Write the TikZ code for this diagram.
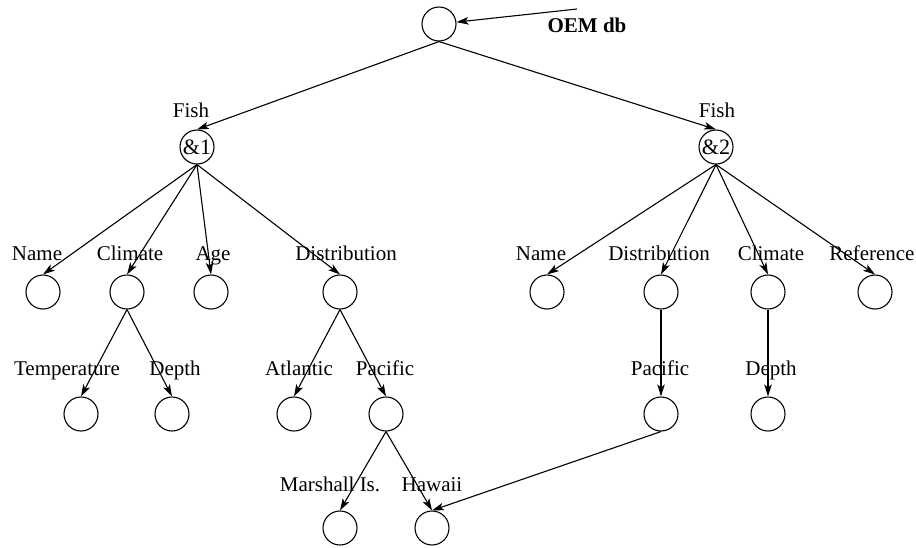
\documentclass[tikz,border=0pt]{standalone}
\usepackage{fontspec}
\setmainfont{Liberation Serif}
\usetikzlibrary{arrows.meta,positioning}

\begin{document}
\begin{tikzpicture}[
    x=1pt, y=-1pt,
    >={Stealth[length=12pt,width=7.5pt,inset=3pt]},
    font=\fontsize{21}{25}\selectfont,
    obj/.style={
		circle,
		draw=black,
		line width=1.1pt,
		minimum size=34pt,
		inner sep=0pt
	},
	lbl/.style={
		anchor=base,
		inner sep=0pt
	},
	link/.style={
		->,
		line width=1.1pt
	}
  ]
  \useasboundingbox (0,0) rectangle (916,547);
    % We start by placing the objects

  \node [obj] (root) at (439,24) {};
  \node [obj, font=\fontsize{22}{25}\selectfont] (fish1) at (197,147) {\&1};
  \node [obj, font=\fontsize{22}{25}\selectfont] (fish2) at (716,147) {\&2};

  % first fish
  \node [obj] (name1) at (43,292) {};
  \node [obj] (climate1) at (127,292) {};
  \node [obj] (age1) at (211,292) {};
  \node [obj] (distr1) at (340,292) {};
  \node [obj] (temp1) at (81,414) {};
  \node [obj] (depth1) at (172,414) {};
  \node [obj] (atlantic1) at (294,414) {};
  \node [obj] (pacific1) at (386,414) {};
  \node [obj] (marshall1) at (340,528) {};
  \node [obj] (hawaii1) at (432,528) {};

  % second fish
  \node [obj] (name2) at (547,292) {};
  \node [obj] (distr2) at (661,292) {};
  \node [obj] (climate2) at (768,292) {};
  \node [obj] (ref2) at (875,292) {};
  \node [obj] (pacific2) at (661,414) {};
  \node [obj] (depth2) at (768,414) {};

  % labels
  \node [lbl, font=\fontsize{21}{25}\selectfont\bfseries] (oemdb) at (587,32) {OEM db};
  \coordinate (oem) at (577,9);
  \node [lbl] (lfish1) at (191,117) {Fish};
  \node [lbl] (lfish2) at (717,117) {Fish};
  \node [lbl] (lname1) at (37,260) {Name};
  \node [lbl] (lclimate1) at (130,260) {Climate};
  \node [lbl] (lage1) at (213,260) {Age};
  \node [lbl] (ldistr1) at (346,260) {Distribution};
  \node [lbl] (ltemp1) at (67,375) {Temperature};
  \node [lbl] (ldepth1) at (175,375) {Depth};
  \node [lbl] (latlantic1) at (299,375) {Atlantic};
  \node [lbl] (lpacific1) at (385,375) {Pacific};
  \node [lbl] (lmarshall1) at (330,491) {Marshall Is.};
  \node [lbl] (lhawaii1) at (432,491) {Hawaii};
  \node [lbl] (lname2) at (541,260) {Name};
  \node [lbl] (ldistr2) at (659,260) {Distribution};
  \node [lbl] (lclimate2) at (771,260) {Climate};
  \node [lbl] (lref2) at (872,260) {Reference};
  \node [lbl] (lpacific2) at (660,375) {Pacific};
  \node [lbl] (ldepth2) at (771,375) {Depth};

  % edges
  \draw [link] (oem) -- (root);
  \draw [link] (root.south) -- (fish1.north);
  \draw [link] (root.south) -- (fish2.north);

  \draw [link] (fish1.south) -- (name1.north);
  \draw [link] (fish1.south) -- (climate1.north);
  \draw [link] (fish1.south) -- (age1.north);
  \draw [link] (fish1.south) -- (distr1.north);
  \draw [link] (climate1.south) -- (temp1.north);
  \draw [link] (climate1.south) -- (depth1.north);
  \draw [link] (distr1.south) -- (atlantic1.north);
  \draw [link] (distr1.south) -- (pacific1.north);
  \draw [link] (pacific1.south) -- (marshall1.north);
  \draw [link] (pacific1.south) -- (hawaii1.north);

  \draw [link] (fish2.south) -- (name2.north);
  \draw [link] (fish2.south) -- (distr2.north);
  \draw [link] (fish2.south) -- (climate2.north);
  \draw [link] (fish2.south) -- (ref2.north);
  \draw [link] (distr2.south) -- (pacific2.north);
  \draw [link] (climate2.south) -- (depth2.north);
  \draw [link] (pacific2.south) -- (hawaii1.north);

\end{tikzpicture}
\end{document}
